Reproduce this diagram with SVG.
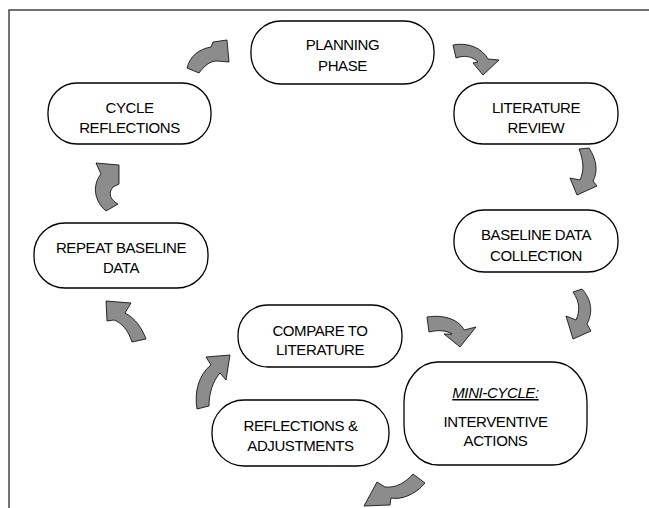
<svg xmlns="http://www.w3.org/2000/svg" width="649" height="508" viewBox="0 0 649 508">
<style>
.node{fill:#fff;stroke:#000;stroke-width:1.3}
.lbl{font-family:"Liberation Sans",Arial,sans-serif;font-size:15px;fill:#000;text-anchor:middle;letter-spacing:-0.4px}
.arr{fill:#8c8c8c;stroke:#000;stroke-width:0.8;stroke-linejoin:miter}
.frame{stroke:#444;stroke-width:1.5;fill:none}
</style>
<rect width="649" height="508" fill="#fff"/>
<path class="frame" d="M9,508 L9,10 L649,10"/>
<g id="n-planning"><rect class="node" x="251" y="21" width="183" height="63" rx="30" ry="30"/><text class="lbl" x="342.5" y="50">PLANNING</text><text class="lbl" x="342.5" y="71">PHASE</text></g>
<g id="n-literature"><rect class="node" x="454" y="83" width="164" height="61" rx="29" ry="29"/><text class="lbl" x="536" y="113">LITERATURE</text><text class="lbl" x="536" y="133">REVIEW</text></g>
<g id="n-cycle"><rect class="node" x="48" y="83" width="163" height="61" rx="29" ry="29"/><text class="lbl" x="129.5" y="113">CYCLE</text><text class="lbl" x="129.5" y="133">REFLECTIONS</text></g>
<g id="n-repeat"><rect class="node" x="34" y="223" width="174" height="65" rx="31" ry="31"/><text class="lbl" x="121" y="253">REPEAT BASELINE</text><text class="lbl" x="121" y="273">DATA</text></g>
<g id="n-baseline"><rect class="node" x="454" y="210" width="164" height="62" rx="30" ry="30"/><text class="lbl" x="536" y="240">BASELINE DATA</text><text class="lbl" x="536" y="261">COLLECTION</text></g>
<g id="n-compare"><rect class="node" x="238" y="305" width="164" height="62" rx="30" ry="30"/><text class="lbl" x="320" y="336">COMPARE TO</text><text class="lbl" x="320" y="355">LITERATURE</text></g>
<g id="n-reflections"><rect class="node" x="212" y="400" width="177" height="66" rx="32" ry="32"/><text class="lbl" x="300.5" y="431">REFLECTIONS &amp;</text><text class="lbl" x="300.5" y="451">ADJUSTMENTS</text></g>
<g id="n-mini"><rect class="node" x="404" y="362" width="183" height="103" rx="34" ry="40"/><text class="lbl" x="495.5" y="398" font-style="italic" text-decoration="underline">MINI-CYCLE:</text><text class="lbl" x="495.5" y="427">INTERVENTIVE</text><text class="lbl" x="495.5" y="446">ACTIONS</text></g>
<g id="connectors">
<path class="arr" d="M187,68 C190,56 199,49 211,47 L213,42 L227,40 L229,62 L217,61 C210,61 204,66 199,73 Z"/>
<path class="arr" d="M453,45 C468,42 482,48 488,59 L499,60 L483,75 L473,63 L478,62 C472,56 464,55 456,58 Z"/>
<path class="arr" d="M579,149 L589,148 C597,160 598,172 593,181 L597,186 L577,195 L570,178 L580,180 C584,171 584,162 579,149 Z"/>
<path class="arr" d="M573,292 L582,289 C592,300 593,313 587,324 L591,331 L573,339 L566,316 L576,320 C580,311 580,302 573,292 Z"/>
<path class="arr" d="M427,317 C446,314 460,321 464,330 L476,327 L460,347 L444,334 L452,334 C446,330 437,330 429,332 Z"/>
<path class="arr" d="M413,474 L425,483 C415,495 401,500 391,498 L390,505 L364,506 L377,482 L385,487 C396,488 405,483 413,474 Z"/>
<path class="arr" d="M197,409 C194,392 199,374 211,365 L206,357 L230,355 L226,380 L220,373 C213,381 209,393 209,406 Z"/>
<path class="arr" d="M132,342 C128,330 122,323 114,320 L107,321 L106,301 L131,303 L125,313 C135,318 142,328 146,339 Z"/>
<path class="arr" d="M106,211 C94,201 92,185 101,174 L96,163 L119,165 L119,184 L113,187 C108,193 110,200 118,204 Z"/>
</g>
</svg>
